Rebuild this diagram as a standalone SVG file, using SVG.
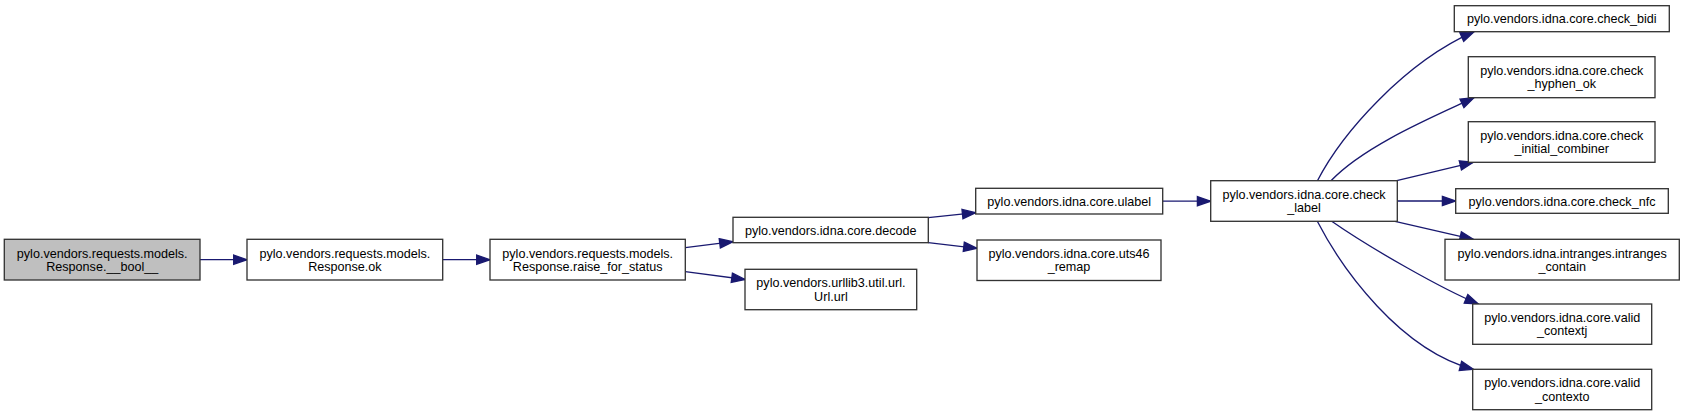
<svg xmlns="http://www.w3.org/2000/svg" width="1684" height="417" viewBox="0 0 1684 417">
<style>
  .node rect { fill: #ffffff; stroke: #333333; stroke-width: 1.33; }
  .node.root rect { fill: #bfbfbf; }
  .node text { font-family: "Liberation Sans", Arial, sans-serif; font-size: 12.6px; fill: #000000; text-anchor: middle; }
  .edges path { fill: none; stroke: #191970; stroke-width: 1.33; marker-end: url(#ah); }
</style>
<defs>
  <marker id="ah" markerWidth="14" markerHeight="10" refX="13.3" refY="4.67" orient="auto" markerUnits="userSpaceOnUse" style="overflow:visible">
    <path d="M0,0 L13.3,4.67 L0,9.33 Z" fill="#191970" stroke="#191970" stroke-width="1.33"/>
  </marker>
</defs>
<rect width="1684" height="417" fill="#ffffff"/>
<g id="edges" class="edges">
  <path d="M200,259.7 L247,259.7"/>
  <path d="M442.7,259.7 L490,259.7"/>
  <path d="M685.3,247.7 L733,241.7"/>
  <path d="M685.3,271.7 L745,279.5"/>
  <path d="M928.3,217.7 L975.7,212.7"/>
  <path d="M928.3,242.7 L977,248.3"/>
  <path d="M1162.7,201.2 L1210.7,201.2"/>
  <path d="M1317.3,181 C1342,133 1405,62 1474,31.7"/>
  <path d="M1330.7,181 C1365,145 1435,116 1474,97.7"/>
  <path d="M1396.7,180.7 L1473.3,162.3"/>
  <path d="M1397.3,201 L1455.7,201"/>
  <path d="M1395,221.3 L1473.3,239.3"/>
  <path d="M1331.7,221.3 C1370,248 1442,289 1478.3,304"/>
  <path d="M1317.3,221.3 C1342,269 1400,350 1473.3,369.3"/>
</g>
<g id="n_bool" class="node root">
  <rect x="4.3" y="239.3" width="195.7" height="40.7"/>
  <text x="102.2" y="257.6">pylo.vendors.requests.models.</text>
  <text x="102.2" y="270.8">Response.__bool__</text>
</g>
<g id="n_ok" class="node">
  <rect x="247" y="239.3" width="195.7" height="40.7"/>
  <text x="344.9" y="257.6">pylo.vendors.requests.models.</text>
  <text x="344.9" y="270.8">Response.ok</text>
</g>
<g id="n_raise" class="node">
  <rect x="490" y="239.3" width="195.3" height="40.7"/>
  <text x="587.7" y="257.6">pylo.vendors.requests.models.</text>
  <text x="587.7" y="270.8">Response.raise_for_status</text>
</g>
<g id="n_decode" class="node">
  <rect x="733" y="217.3" width="195.3" height="25.4"/>
  <text x="830.7" y="234.5">pylo.vendors.idna.core.decode</text>
</g>
<g id="n_url" class="node">
  <rect x="745" y="269.3" width="171.7" height="40.4"/>
  <text x="830.9" y="287.4">pylo.vendors.urllib3.util.url.</text>
  <text x="830.9" y="300.6">Url.url</text>
</g>
<g id="n_ulabel" class="node">
  <rect x="975.7" y="188.3" width="187" height="25.7"/>
  <text x="1069.2" y="205.7">pylo.vendors.idna.core.ulabel</text>
</g>
<g id="n_uts46" class="node">
  <rect x="977" y="240" width="184" height="40.5"/>
  <text x="1069" y="258.1">pylo.vendors.idna.core.uts46</text>
  <text x="1069" y="271.3">_remap</text>
</g>
<g id="n_check_label" class="node">
  <rect x="1210.7" y="180.7" width="186.6" height="40.6"/>
  <text x="1304" y="198.9">pylo.vendors.idna.core.check</text>
  <text x="1304" y="212.1">_label</text>
</g>
<g id="n_check_bidi" class="node">
  <rect x="1454.3" y="5.7" width="215" height="26"/>
  <text x="1561.8" y="23.2">pylo.vendors.idna.core.check_bidi</text>
</g>
<g id="n_check_hyphen_ok" class="node">
  <rect x="1468.3" y="56.7" width="186.7" height="41"/>
  <text x="1561.7" y="75.1">pylo.vendors.idna.core.check</text>
  <text x="1561.7" y="88.3">_hyphen_ok</text>
</g>
<g id="n_check_initial_combiner" class="node">
  <rect x="1468.3" y="121.7" width="186.7" height="40.6"/>
  <text x="1561.7" y="139.9">pylo.vendors.idna.core.check</text>
  <text x="1561.7" y="153.1">_initial_combiner</text>
</g>
<g id="n_check_nfc" class="node">
  <rect x="1455.7" y="188.7" width="212.6" height="24.6"/>
  <text x="1562" y="205.5">pylo.vendors.idna.core.check_nfc</text>
</g>
<g id="n_intranges_contain" class="node">
  <rect x="1445" y="239.3" width="234.3" height="40.7"/>
  <text x="1562.2" y="257.6">pylo.vendors.idna.intranges.intranges</text>
  <text x="1562.2" y="270.8">_contain</text>
</g>
<g id="n_valid_contextj" class="node">
  <rect x="1472.7" y="304" width="179" height="40.3"/>
  <text x="1562.2" y="322.1">pylo.vendors.idna.core.valid</text>
  <text x="1562.2" y="335.3">_contextj</text>
</g>
<g id="n_valid_contexto" class="node">
  <rect x="1472.7" y="369.3" width="179" height="40.4"/>
  <text x="1562.2" y="387.4">pylo.vendors.idna.core.valid</text>
  <text x="1562.2" y="400.6">_contexto</text>
</g>
</svg>
